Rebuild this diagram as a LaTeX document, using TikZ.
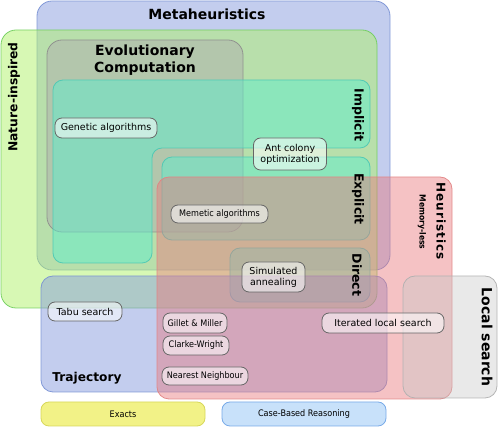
\documentclass[tikz,border=0pt]{standalone}
\usepackage{fontspec}
\setmainfont{DejaVu Sans}
\newfontfamily\condfont{DejaVu Sans Condensed}
\definecolor{metaF}{RGB}{135,155,221}
\definecolor{metaD}{RGB}{120,145,212}
\definecolor{natF}{RGB}{175,241,105}
\definecolor{natD}{RGB}{110,205,90}
\definecolor{ecF}{RGB}{175,175,175}
\definecolor{ecD}{RGB}{140,140,140}
\definecolor{tealF}{RGB}{95,238,205}
\definecolor{tealD}{RGB}{75,200,180}
\definecolor{heuF}{RGB}{232,120,125}
\definecolor{heuD}{RGB}{226,130,130}
\definecolor{lsF}{RGB}{200,200,200}
\definecolor{lsD}{RGB}{175,175,175}
\definecolor{exF}{RGB}{242,242,135}
\definecolor{exD}{RGB}{215,215,90}
\definecolor{cbrF}{RGB}{200,225,250}
\definecolor{cbrD}{RGB}{120,170,232}
\begin{document}
\begin{tikzpicture}[x=1pt,y=-1pt,
  region/.style={line width=0.8pt, fill opacity=0.5, draw opacity=0.9},
  algo/.style={draw=black!60, fill=white, fill opacity=0.55, text opacity=1,
    rounded corners=7pt, line width=0.8pt, inner sep=0pt, align=center,
    font=\fontsize{9.5}{11}\selectfont},
  calgo/.style={algo, font=\condfont\fontsize{9}{11}\selectfont},
  title/.style={font=\bfseries\fontsize{14}{17}\selectfont, align=center, inner sep=0pt},
  side/.style={font=\bfseries\fontsize{12.5}{15}\selectfont, inner sep=0pt}
]
\useasboundingbox (0,0) rectangle (499,427);
% regions
\draw[region, fill=metaF, draw=metaD, rounded corners=15pt] (37,1) rectangle (390,270);
\draw[region, fill=natF, draw=natD, rounded corners=15pt] (1,30) rectangle (377,308);
\draw[region, fill=ecF, draw=ecD, rounded corners=15pt] (47,40) rectangle (243,232);
\draw[region, fill=tealF, draw=tealD, rounded corners=10pt]
  (53,80) -- (370,80) -- (370,148) -- (152,148) -- (152,263) -- (53,263) -- cycle;
\draw[region, fill=tealF, draw=tealD, rounded corners=10pt] (162,157) rectangle (370,240);
\draw[region, fill=tealF, draw=tealD, rounded corners=10pt] (230,248) rectangle (370,302);
\draw[region, fill=metaF, draw=metaD, rounded corners=12pt] (41,276) rectangle (387,392);
\draw[region, fill=heuF, draw=heuD, rounded corners=12pt, fill opacity=0.45] (157,177) rectangle (452,399);
\draw[region, fill=lsF, draw=lsD, rounded corners=12pt, fill opacity=0.4] (403,276) rectangle (497,398);
\draw[fill=exF, draw=exD, line width=0.8pt, rounded corners=8pt] (41,402) rectangle (205,426);
\draw[fill=cbrF, draw=cbrD, line width=0.8pt, rounded corners=8pt] (222,402) rectangle (386,426);
% titles
\node[title] (meta) at (207,14) {Metaheuristics};
\node[title] (ec) at (145,60) {Evolutionary\\Computation};
\node[side, font=\bfseries\fontsize{12.3}{15}\selectfont, rotate=90] (nat) at (14,97) {Nature-inspired};
\node[side, rotate=-90] (impl) at (358,115) {Implicit};
\node[side, rotate=-90] (expl) at (358,199) {Explicit};
\node[side, rotate=-90] (dir) at (357,275) {Direct};
\node[inner sep=0pt, rotate=-90, font=\bfseries\fontsize{12}{14}\selectfont\addfontfeature{LetterSpace=8}] (heu) at (441,221) {Heuristics};
\node[inner sep=0pt, rotate=-90, font=\condfont\bfseries\fontsize{8.5}{10}\selectfont] (mem) at (422,222) {Memory-less};
\node[title, rotate=-90] (ls) at (487,337) {Local search};
\node[side, font=\bfseries\fontsize{12.2}{15}\selectfont] (traj) at (87,378) {Trajectory};
\node[inner sep=0pt, font=\condfont\fontsize{9}{11}\selectfont] (exacts) at (123,414) {Exacts};
\node[inner sep=0pt, font=\condfont\fontsize{9}{11}\selectfont] (cbr) at (304,414) {Case-Based Reasoning};
% algorithms
\node[algo, minimum width=102pt, minimum height=20pt] (ga) at (106,128) {Genetic algorithms};
\node[algo, minimum width=73pt, minimum height=32pt] (aco) at (290,154) {Ant colony\\optimization};
\node[calgo, minimum width=97pt, minimum height=18pt] (ma) at (219.5,214) {Memetic algorithms};
\node[algo, minimum width=63pt, minimum height=30pt] (sa) at (273.5,277) {Simulated\\annealing};
\node[algo, minimum width=74pt, minimum height=19pt] (tabu) at (85,311.5) {Tabu search};
\node[calgo, minimum width=64pt, minimum height=20pt] (gm) at (195,323) {Gillet \& Miller};
\node[calgo, minimum width=66pt, minimum height=19pt] (cw) at (196,345.5) {Clarke-Wright};
\node[calgo, minimum width=86pt, minimum height=18pt] (nn) at (205,376) {Nearest Neighbour};
\node[algo, minimum width=122pt, minimum height=20pt] (ils) at (383,323) {Iterated local search};
\end{tikzpicture}
\end{document}
